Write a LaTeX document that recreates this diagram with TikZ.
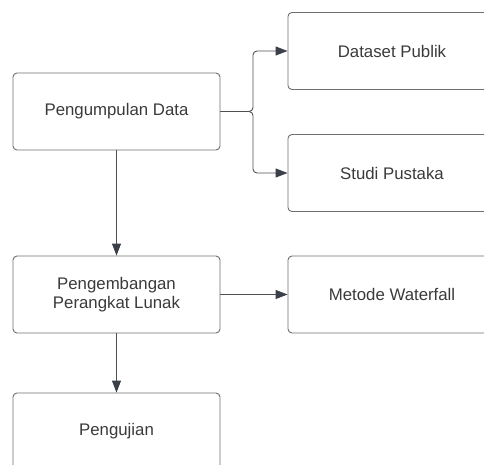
\documentclass[tikz,border=0pt]{standalone}
\usepackage{fontspec}
\setmainfont{Liberation Sans}
\usetikzlibrary{arrows.meta}
\definecolor{boxline}{HTML}{6E6E6E}
\definecolor{linkline}{HTML}{505050}
\definecolor{tipfill}{HTML}{3A3F4A}
\definecolor{txt}{HTML}{3A3A3A}
\tikzset{
  stepbox/.style={draw=boxline, line width=0.9pt, rounded corners=4pt,
    minimum width=207pt, minimum height=77pt, inner sep=0pt,
    align=center, text=txt, font=\fontsize{16.8}{19.5}\selectfont},
  link/.style={draw=linkline, line width=0.9pt,
    -{Triangle[length=12pt,width=9pt,fill=tipfill,color=tipfill]}},
}
\begin{document}
\begin{tikzpicture}[x=1pt,y=-1pt]
  \useasboundingbox (0,0) rectangle (484,465);
  \clip (0,0) rectangle (484,465);
  % left column
  \node[stepbox] (pd) at (116.5,111.5) {Pengumpulan Data};
  \node[stepbox] (ppl) at (116.5,294.5) {Pengembangan\\Perangkat Lunak};
  \node[stepbox] (uji) at (116.5,431.5) {Pengujian};
  % right column
  \node[stepbox, minimum width=208pt] (dp) at (392,51) {Dataset Publik};
  \node[stepbox, minimum width=208pt] (sp) at (392,173) {Studi Pustaka};
  \node[stepbox, minimum width=208pt] (mw) at (392,294.5) {Metode Waterfall};
  % fork towards the two data sources
  \coordinate (fork) at (253,111.5);
  \draw[link, rounded corners=4pt] (pd.east) -- (fork) |- (dp.west);
  \draw[link, rounded corners=4pt] (pd.east) -- (fork) |- (sp.west);
  % main flow
  \draw[link] (pd.south) -- (ppl.north);
  \draw[link] (ppl.south) -- (uji.north);
  \draw[link] (ppl.east) -- (mw.west);
\end{tikzpicture}
\end{document}
